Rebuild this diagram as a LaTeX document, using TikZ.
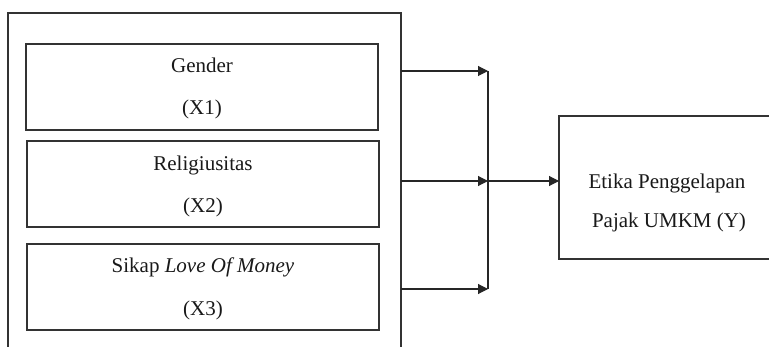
\documentclass[tikz,border=0pt]{standalone}
\usepackage{fontspec}
\setmainfont{Liberation Serif}
\usetikzlibrary{arrows.meta}
\begin{document}
\begin{tikzpicture}[x=1pt,y=-1pt,line width=1.1pt,
  box/.style={draw=black!80,inner sep=0pt,outer sep=0pt},
  txt/.style={anchor=base,inner sep=0pt,font=\fontsize{21}{25}\selectfont,text=black!90},
  arr/.style={draw=black!85,-{Triangle[length=10pt,width=10pt]}},
  ln/.style={draw=black!85}]
\useasboundingbox (0,0) rectangle (769,347);
\clip (0,0) rectangle (769,347);
\fill[white] (0,0) rectangle (769,347);
% outer group box
\node[box,minimum width=393pt,minimum height=357pt] (grp) at (204.5,191.5) {};
% inner boxes
\node[box,minimum width=352pt,minimum height=86pt] (b1) at (202,87) {};
\node[box,minimum width=352pt,minimum height=86pt] (b2) at (203,184) {};
\node[box,minimum width=352pt,minimum height=86pt] (b3) at (203,287) {};
\node[txt] (t1a) at (202,73) {Gender};
\node[txt] (t1b) at (202,115) {(X1)};
\node[txt] (t2a) at (203,171) {Religiusitas};
\node[txt] (t2b) at (203,213) {(X2)};
\node[txt] (t3a) at (203,273) {Sikap \textit{Love Of Money}};
\node[txt] (t3b) at (203,316) {(X3)};
% dependent box
\node[box,minimum width=241pt,minimum height=143pt] (out) at (679.5,187.5) {};
\node[txt] (o1) at (667,189) {Etika Penggelapan};
\node[txt] (o2) at (669,228) {Pajak UMKM (Y)};
% connectors
\coordinate (y1) at (0,71);
\coordinate (y2) at (0,181);
\coordinate (y3) at (0,289);
\coordinate (j1) at (488,71);
\coordinate (j2) at (488,181);
\coordinate (j3) at (488,289);
\draw[arr] (grp.east |- y1) -- (j1);
\draw[arr] (grp.east |- y2) -- (j2);
\draw[arr] (grp.east |- y3) -- (j3);
\draw[ln] (j1) -- (j3);
\draw[arr] (j2) -- (out.west |- j2);
\end{tikzpicture}
\end{document}
